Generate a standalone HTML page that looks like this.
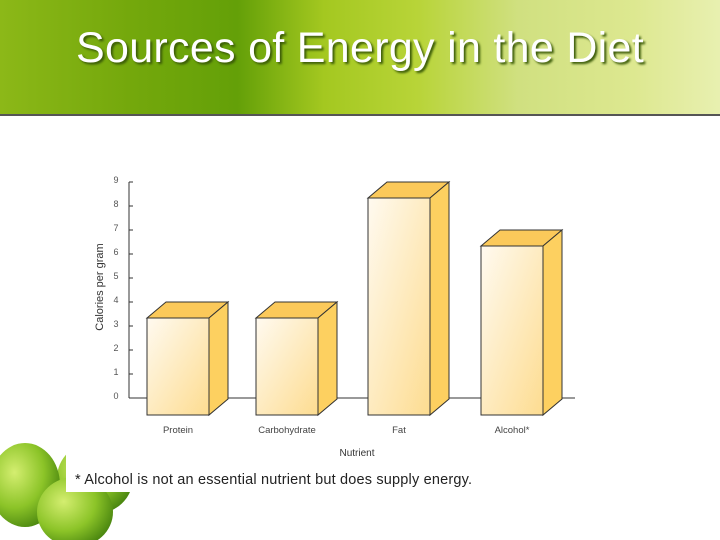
<!DOCTYPE html>
<html><head><meta charset="utf-8"><style>
body{margin:0;width:720px;height:540px;overflow:hidden;background:#fff;font-family:"Liberation Sans",sans-serif;position:relative}
#hdr{position:absolute;left:0;top:0;width:720px;height:114px;background:linear-gradient(90deg,#8cb818 0%,#74a80c 18%,#64a008 33%,#a4c820 45%,#b8d438 58%,#d0e080 72%,#dde890 88%,#e8f0b0 100%);border-bottom:2px solid #555}
#title{position:absolute;left:0;width:720px;top:24px;text-align:center;font-size:43px;color:#fff;text-shadow:2px 2px 2px #3a5a08;letter-spacing:0.3px}
</style></head><body>
<div id="hdr"><div id="title">Sources of Energy in the Diet</div></div>
<svg width="720" height="540" style="position:absolute;left:0;top:0">
<defs>
<linearGradient id="front" x1="0" y1="0" x2="1" y2="1"><stop offset="0" stop-color="#fffaf0"/><stop offset="1" stop-color="#fddc90"/></linearGradient>
<radialGradient id="apple" cx="0.35" cy="0.35" r="0.7"><stop offset="0" stop-color="#d4ee70"/><stop offset="0.6" stop-color="#8cc428"/><stop offset="1" stop-color="#4c8810"/></radialGradient>
</defs>
<g>
<ellipse cx="95" cy="478" rx="38" ry="36" fill="url(#apple)"/>
<ellipse cx="25" cy="485" rx="35" ry="42" fill="url(#apple)"/>
<ellipse cx="75" cy="512" rx="38" ry="35" fill="url(#apple)"/>
</g>
<rect x="66" y="120" width="654" height="372" fill="#fff"/>
<g id="plot"></g>
<text x="103" y="287" transform="rotate(-90 103 287)" text-anchor="middle" font-size="11" fill="#333">Calories per gram</text>
<text x="357" y="456" text-anchor="middle" font-size="10" fill="#333">Nutrient</text>
<text x="75" y="484" font-size="14.5" fill="#222" textLength="397">* Alcohol is not an essential nutrient but does supply energy.</text>
</svg>
<script>
const categories=["Protein","Carbohydrate","Fat","Alcohol*"];
const values=[4,4,9,7];
const ticks=[0,1,2,3,4,5,6,7,8,9];
const ns="http://www.w3.org/2000/svg";
const g=document.getElementById('plot');
const y0=398,unit=24,ax=129;
const y=v=>y0-v*unit;
const barX=i=>[147,256,368,481][i];
const bw=62,dx=19,dy=16;
function mk(t,a){const e=document.createElementNS(ns,t);for(const k in a)e.setAttribute(k,a[k]);g.appendChild(e);return e;}
let l=mk('line',{x1:ax,y1:y(9),x2:ax,y2:y0,stroke:'#333','stroke-width':1});


l=mk('line',{x1:ax,y1:y0,x2:575,y2:y0,stroke:'#333','stroke-width':1});


ticks.forEach(t=>{
 const tk=mk('line',{x1:ax,y1:y(t),x2:ax+4,y2:y(t),stroke:'#333'});
 
 
 const tx=mk('text',{x:116,y:y(t)+1,'text-anchor':'middle','font-size':9,fill:'#555'});
 tx.textContent=t;
 
 
});
categories.forEach((c,i)=>{
 const x=barX(i),bt=y(values[i]),ft=bt+dy,fb=y0+17;
 const gr=document.createElementNS(ns,'g');g.appendChild(gr);
 
 
 const P=(t,a)=>{const e=document.createElementNS(ns,t);for(const k in a)e.setAttribute(k,a[k]);gr.appendChild(e);return e;};
 P('polygon',{points:`${x},${ft} ${x+dx},${bt} ${x+bw+dx},${bt} ${x+bw},${ft}`,fill:'#fbc95a',stroke:'#333','stroke-width':1});
 P('polygon',{points:`${x+bw},${ft} ${x+bw+dx},${bt} ${x+bw+dx},${fb-dy} ${x+bw},${fb}`,fill:'#fdd060',stroke:'#333','stroke-width':1});
 P('rect',{x:x,y:ft,width:bw,height:fb-ft,fill:'url(#front)',stroke:'#333','stroke-width':1});
 const tx=mk('text',{x:x+bw/2,y:433,'text-anchor':'middle','font-size':9.5,fill:'#444'});
 tx.textContent=c;
 
 
});
</script>
</body></html>
